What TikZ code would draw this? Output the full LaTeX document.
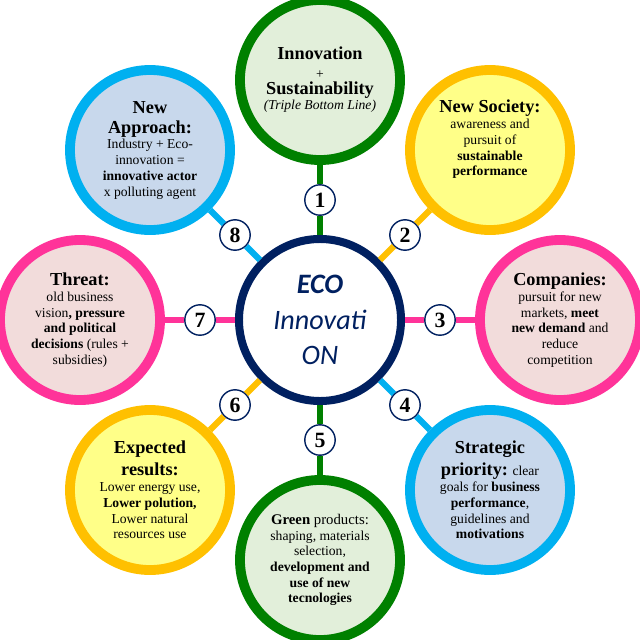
\documentclass[tikz,border=0pt]{standalone}
\usepackage{fontspec}
\setmainfont{Liberation Serif}
\newfontfamily\ecofont{Carlito}

\definecolor{ecoNavy}{RGB}{0,32,96}
\definecolor{ecoGreen}{RGB}{0,128,0}
\definecolor{ecoGreenFill}{RGB}{226,239,218}
\definecolor{ecoYellow}{RGB}{255,192,0}
\definecolor{ecoYellowFill}{RGB}{255,255,136}
\definecolor{ecoPink}{RGB}{255,51,153}
\definecolor{ecoPinkFill}{RGB}{242,220,219}
\definecolor{ecoBlue}{RGB}{0,176,240}
\definecolor{ecoBlueFill}{RGB}{200,216,236}

% title words inside the bubbles
\newcommand{\hd}[1]{{\fontsize{13}{15.4}\selectfont\bfseries #1}}

\tikzset{
  bubble/.style={circle, minimum size=4cm, inner sep=0pt, line width=7pt,
    align=center, font=\fontsize{9.7}{11.2}\selectfont},
  greenbub/.style={bubble, draw=ecoGreen, fill=ecoGreenFill},
  yellowbub/.style={bubble, draw=ecoYellow, fill=ecoYellowFill},
  pinkbub/.style={bubble, draw=ecoPink, fill=ecoPinkFill},
  bluebub/.style={bubble, draw=ecoBlue, fill=ecoBlueFill},
  hub/.style={circle, draw=ecoNavy, fill=white, line width=5.7pt,
    minimum size=4.05cm, inner sep=0pt, align=center, text=ecoNavy,
    font=\ecofont\fontsize{20}{25}\selectfont},
  badge/.style={circle, draw=ecoNavy, fill=white, line width=1pt,
    minimum size=0.76cm, inner sep=0pt, font=\fontsize{15.5}{15.5}\selectfont\bfseries},
  spoke/.style={line width=4.3pt}
}

\begin{document}
\begin{tikzpicture}[x=0.025cm, y=-0.025cm]
    \useasboundingbox (0,0) rectangle (640,640);

    % Centre
    \node[hub] (eco) at (320,320) {\textbf{\textit{ECO}}\\ \textit{Innovati}\\ \textit{ON}};

    % Outer bubbles
    \node[greenbub] (c1) at (320,80)
      {\hd{Innovation}\\[2pt] +\\ \hd{Sustainability}\\ \textit{(Triple Bottom Line)}};
    \node[yellowbub] (c2) at (490,150)
      {\hd{New Society:}\\ awareness and\\ pursuit of\\ \textbf{sustainable}\\ \textbf{performance}\\[6pt]};
    \node[pinkbub] (c3) at (560,320)
      {\hd{Companies:}\\ pursuit for new\\ markets, \textbf{meet}\\ \textbf{new demand} and\\ reduce\\ competition};
    \node[bluebub] (c4) at (490,490)
      {\hd{Strategic}\\[3pt] \hd{priority:} clear\\ goals for \textbf{business}\\ \textbf{performance},\\ guidelines and\\ \textbf{motivations}};
    \node[greenbub] (c5) at (320,560)
      {{\fontsize{10.5}{12}\selectfont\textbf{Green} products:}\\ shaping, materials\\ selection,\\ \textbf{development and}\\ \textbf{use of new}\\ \textbf{tecnologies}};
    \node[yellowbub] (c6) at (150,490)
      {\hd{Expected}\\[3pt] \hd{results:}\\ Lower energy use,\\ \textbf{Lower polution,}\\ Lower natural\\ resources use};
    \node[pinkbub] (c7) at (80,320)
      {\hd{Threat:}\\ old business\\ vision\textbf{, pressure}\\ \textbf{and political}\\ \textbf{decisions} (rules +\\ subsidies)};
    \node[bluebub] (c8) at (150,150)
      {\hd{New}\\[3pt] \hd{Approach:}\\ Industry + Eco-\\ innovation =\\ \textbf{innovative actor}\\ x polluting agent};

    % Numbered spokes
    \foreach \i/\x/\y/\col in {1/320/200/ecoGreen, 2/405/235/ecoYellow, 3/440/320/ecoPink,
        4/405/405/ecoBlue, 5/320/440/ecoGreen, 6/235/405/ecoYellow,
        7/200/320/ecoPink, 8/235/235/ecoBlue} {
      \node[badge] (n\i) at (\x,\y) {\i};
      \draw[spoke, \col] (eco) -- (n\i) -- (c\i);
    }
\end{tikzpicture}
\end{document}
